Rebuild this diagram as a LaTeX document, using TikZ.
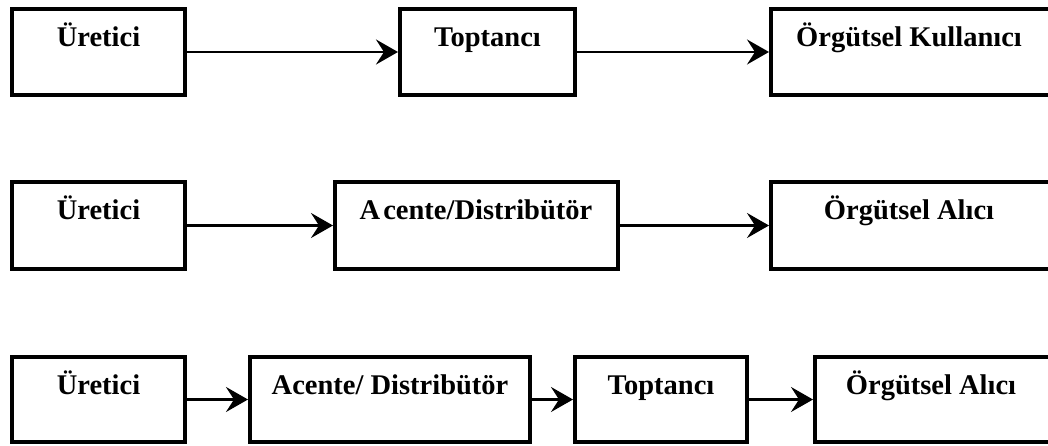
\documentclass[tikz,border=0pt]{standalone}
\usepackage{fontspec}
\setmainfont{Liberation Serif}
\usetikzlibrary{arrows.meta}
\begin{document}
\begin{tikzpicture}[x=1pt,y=-1pt,
  box/.style={draw=black, line width=4pt, fill=white, rectangle, inner sep=0pt},
  lbl/.style={anchor=base, inner sep=0pt, font=\fontsize{28.5}{30}\selectfont\bfseries},
  conn/.style={line width=2.6pt, -{Stealth[length=22pt, width=25pt, inset=8pt]}}
]
\useasboundingbox (0,0) rectangle (1048,446);
\clip (0,0) rectangle (1048,446);
% Row 1
\node[box, minimum width=173pt, minimum height=86pt] (u1) at (98.5,52) {};
\node[box, minimum width=175pt, minimum height=86pt] (t1) at (487.5,52) {};
\node[box, minimum width=300pt, minimum height=86pt, anchor=west] (o1) at (769,52) {};
\node[lbl] (u1t) at (98.5,47) {Üretici};
\node[lbl] (t1t) at (487.5,47) {Toptancı};
\node[lbl] (o1t) at (909,47) {Örgütsel Kullanıcı};
\draw[conn] (u1) -- (t1);
\draw[conn] (t1) -- (o1);
% Row 2
\node[box, minimum width=173pt, minimum height=87pt] (u2) at (98.5,225.5) {};
\node[box, minimum width=283pt, minimum height=87pt] (a2) at (476.5,225.5) {};
\node[box, minimum width=300pt, minimum height=87pt, anchor=west] (o2) at (769,225.5) {};
\node[lbl] (u2t) at (98.5,220) {Üretici};
\node[lbl] (a2t) at (476,220) {A\kern3pt cente/Distribütör};
\node[lbl] (o2t) at (909,220) {Örgütsel Alıcı};
\draw[conn] (u2) -- (a2);
\draw[conn] (a2) -- (o2);
% Row 3
\node[box, minimum width=173pt, minimum height=85pt] (u3) at (98.5,399.5) {};
\node[box, minimum width=280pt, minimum height=85pt] (a3) at (390,399.5) {};
\node[box, minimum width=172pt, minimum height=85pt] (t3) at (661,399.5) {};
\node[box, minimum width=300pt, minimum height=85pt, anchor=west] (o3) at (813,399.5) {};
\node[lbl] (u3t) at (98.5,394) {Üretici};
\node[lbl] (a3t) at (390,394) {Acente/ Distribütör};
\node[lbl] (t3t) at (661,394) {Toptancı};
\node[lbl] (o3t) at (931,394) {Örgütsel Alıcı};
\draw[conn] (u3) -- (a3);
\draw[conn] (a3) -- (t3);
\draw[conn] (t3) -- (o3);
\end{tikzpicture}
\end{document}
